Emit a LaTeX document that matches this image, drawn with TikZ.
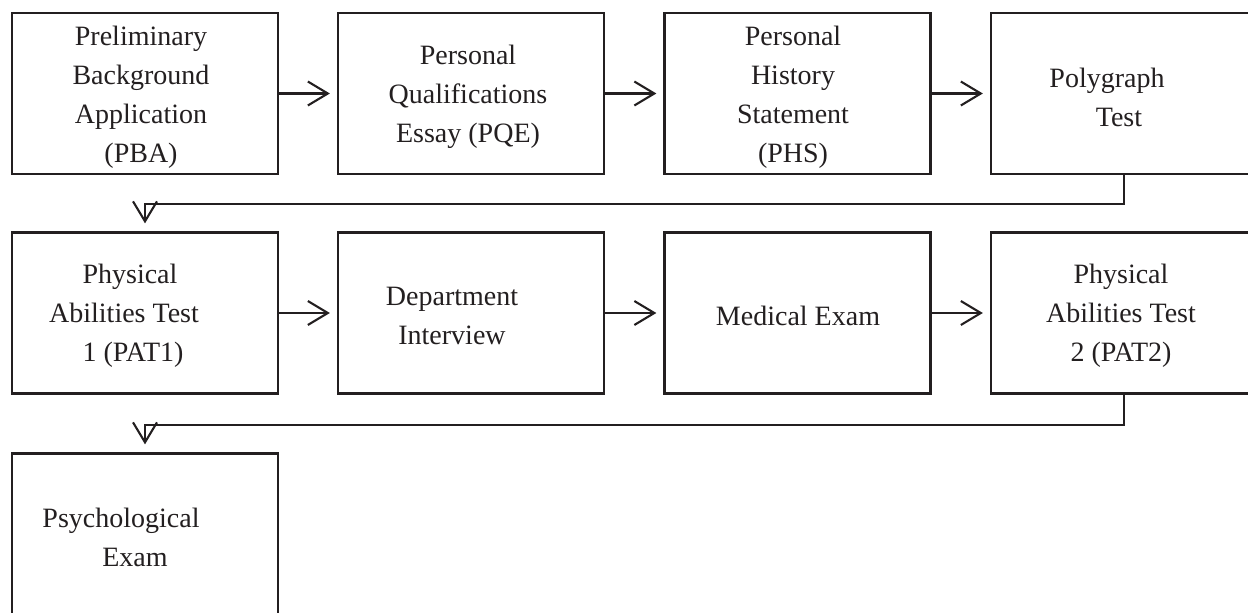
\documentclass[tikz,border=0pt]{standalone}
\usepackage{fontspec}
\setmainfont{Liberation Serif}
\usetikzlibrary{arrows.meta}
\definecolor{ink}{RGB}{35,31,32}
\begin{document}
\begin{tikzpicture}[x=1pt,y=-1pt,
  stepbox/.style={draw=ink,line width=2.2pt,rectangle,minimum width=266pt,minimum height=161pt,inner sep=0pt},
  lbl/.style={text=ink,align=center,inner sep=0pt,font=\fontsize{28pt}{39pt}\selectfont},
  flow/.style={draw=ink,line width=2.1pt,-{Straight Barb[length=20pt,width=24pt,line width=2.1pt]}},
]
\clip (0,0) rectangle (1248,613);
\fill[white] (0,0) rectangle (1248,613);
% boxes
\node[stepbox] (b1) at (145,93.5) {};
\node[stepbox] (b2) at (471,93.5) {};
\node[stepbox] (b3) at (797.5,93.5) {};
\node[stepbox] (b4) at (1124,93.5) {};
\node[stepbox] (b5) at (145,313) {};
\node[stepbox] (b6) at (471,313) {};
\node[stepbox] (b7) at (797.5,313) {};
\node[stepbox] (b8) at (1124,313) {};
\node[stepbox] (b9) at (145,534) {};
% texts
\node[lbl] (t1) at (141,97) {Preliminary\\Background\\Application\\(PBA)};
\node[lbl] (t2) at (468,97) {Personal\\Qualifications\\Essay (PQE)};
\node[lbl] (t3) at (793,97) {Personal\\History\\Statement\\(PHS)};
\node[lbl] (t4) at (1107,97) {Polygraph\\\hspace*{24pt}Test};
\node[lbl] (t5) at (124,316) {\hspace*{12pt}Physical\\Abilities Test\\\hspace*{18pt}1 (PAT1)};
\node[lbl] (t6) at (452,316) {Department\\Interview};
\node[lbl] (t7) at (798,316) {Medical Exam};
\node[lbl] (t8) at (1121,316) {Physical\\Abilities Test\\2 (PAT2)};
\node[lbl] (t9) at (121,537) {Psychological\\\hspace*{28pt}Exam};
% connectors
\draw[flow,shorten >=7pt] (b1.east) -- (b2.west);
\draw[flow,shorten >=7pt] (b2.east) -- (b3.west);
\draw[flow,shorten >=7pt] (b3.east) -- (b4.west);
\draw[flow,shorten >=7pt] (b5.east) -- (b6.west);
\draw[flow,shorten >=7pt] (b6.east) -- (b7.west);
\draw[flow,shorten >=7pt] (b7.east) -- (b8.west);
\draw[flow,shorten >=8pt] (b4.south) -- ++(0,29) -| (b5.north);
\draw[flow,shorten >=8pt] (b8.south) -- ++(0,30) -| (b9.north);
\end{tikzpicture}
\end{document}
